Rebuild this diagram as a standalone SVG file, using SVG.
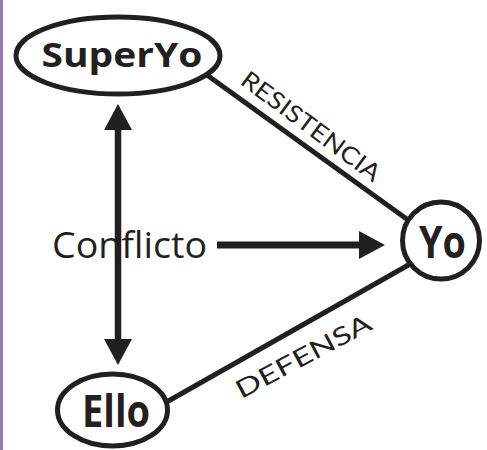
<svg xmlns="http://www.w3.org/2000/svg" width="487" height="450" viewBox="0 0 487 450">
<style>
.edge{stroke:#231f20;fill:none}
.node{fill:#fff;stroke:#231f20;stroke-width:5}
.title{font-family:"Open Sans","DejaVu Sans",sans-serif;font-weight:bold;fill:#231f20;text-anchor:middle}
.lbl{font-family:"Lato","Open Sans",sans-serif;fill:#231f20;text-anchor:middle}
</style>
<defs>
<marker id="ah" viewBox="0 -15 26 30" refX="1" refY="0" markerWidth="26" markerHeight="30" markerUnits="userSpaceOnUse" orient="auto-start-reverse">
<path d="M0,-14 L26,0 L0,14 z" fill="#231f20"/>
</marker>
</defs>
<rect x="0" y="0" width="3" height="450" fill="#9d78b8"/>
<g id="connectors">
<line class="edge" x1="200" y1="70" x2="415" y2="225" stroke-width="5"/>
<line class="edge" x1="160" y1="405.7" x2="415" y2="261.3" stroke-width="5"/>
<line class="edge" x1="118" y1="129" x2="118" y2="340" stroke-width="6.5" marker-start="url(#ah)" marker-end="url(#ah)"/>
<line class="edge" x1="217" y1="245" x2="360" y2="245" stroke-width="7" marker-end="url(#ah)"/>
<text class="lbl" font-size="24" textLength="167" lengthAdjust="spacingAndGlyphs" transform="translate(306,133) rotate(36.5)">RESISTENCIA</text>
<text class="lbl" font-size="25" textLength="150" lengthAdjust="spacingAndGlyphs" transform="translate(307.5,364) rotate(-28)">DEFENSA</text>
</g>
<g id="superyo">
<ellipse class="node" cx="118" cy="55.5" rx="102" ry="38.5"/>
<text class="title" x="122" y="67" font-size="34" textLength="161" lengthAdjust="spacingAndGlyphs">SuperYo</text>
</g>
<g id="yo">
<circle class="node" cx="441" cy="240.5" r="38.5"/>
<text class="title" x="442.5" y="258" font-size="45" textLength="47" lengthAdjust="spacingAndGlyphs">Yo</text>
</g>
<g id="ello">
<ellipse class="node" cx="112.5" cy="410" rx="55" ry="36"/>
<text class="title" x="116" y="427" font-size="45" textLength="68" lengthAdjust="spacingAndGlyphs">Ello</text>
</g>
<g id="conflicto">
<text class="lbl" x="129.5" y="258" font-size="36" textLength="155" lengthAdjust="spacingAndGlyphs" style="font-family:'Open Sans',sans-serif">Conflicto</text>
</g>
</svg>
